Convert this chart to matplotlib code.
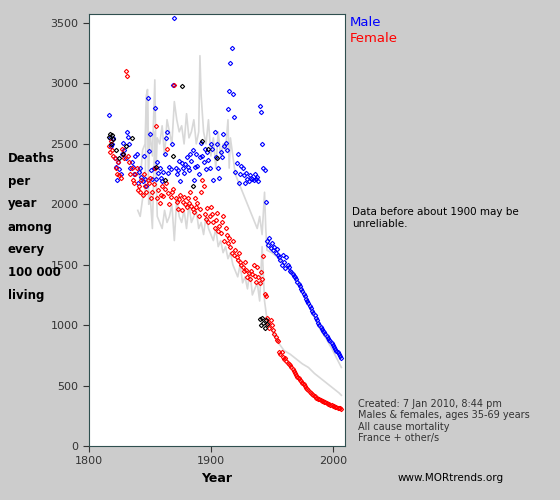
import matplotlib
matplotlib.use("Agg")
import matplotlib.pyplot as plt
import numpy as np

male_years = list(range(1816, 1946)) + list(range(1946, 2008))
male_vals = [2740,2550,2480,2500,2550,2380,2310,2200,2350,2290,
             2250,2420,2510,2450,2380,2600,2560,2500,2300,2350,
             2310,2250,2400,2420,2180,2270,2300,2230,2190,2400,
             2210,2150,2880,2440,2580,2280,2210,2300,2800,2210,
             2350,2260,2300,2220,2190,2270,2420,2550,2600,2260,
             2310,2290,2500,2990,3540,2300,2250,2280,2360,2190,
             2340,2300,2260,2330,2390,2310,2280,2420,2360,2450,
             2200,2310,2420,2320,2250,2390,2510,2400,2350,2460,
             2290,2430,2370,2300,2500,2460,2200,2600,2390,2500,
             2300,2220,2430,2390,2580,2480,2510,2450,2790,2940,
             3170,3290,2910,2720,2270,2340,2420,2180,2250,2320,
             2300,2240,2180,2260,2210,2190,2240,2220,2210,2200,
             2250,2210,2230,2190,2810,2760,2500,2300,2280,2020,
             1700,1660,1720,1640,1680,1620,1650,1600,1630,1580,
             1560,1540,1500,1580,1520,1470,1560,1500,1480,1450,
             1440,1420,1410,1400,1380,1360,1340,1320,1300,1280,
             1260,1240,1220,1200,1180,1160,1140,1120,1100,1080,
             1060,1040,1020,1000,985,970,955,940,925,910,
             895,880,865,850,835,820,805,790,775,760,
             745,730]
fem_years = list(range(1816, 2008))
fem_vals = [2480,2430,2520,2450,2400,2380,2300,2250,2350,2240,
            2220,2460,2420,2380,3100,3060,2400,2350,2250,2300,
            2200,2180,2250,2300,2120,2150,2100,2200,2080,2250,
            2150,2100,2200,2180,2220,2050,2100,2170,2300,2650,
            2050,2120,2010,2080,2150,2070,2130,2180,2460,2090,
            2000,2060,2100,2130,2990,2050,2020,1960,2040,2080,
            1950,2020,2060,2000,1980,2050,2010,2100,1990,1960,
            1940,2050,1980,2010,1900,1960,2100,2200,2150,1920,
            1880,1970,1850,1900,1980,1920,1850,1800,1870,1930,
            1780,1820,1760,1850,1900,1700,1800,1750,1680,1720,
            1650,1600,1700,1580,1620,1560,1540,1600,1520,1500,
            1480,1450,1520,1460,1400,1430,1380,1450,1420,1500,
            1410,1360,1480,1400,1350,1440,1380,1570,1260,1240,
            1060,1020,980,1040,1000,960,930,900,880,870,
            780,760,780,740,720,730,700,690,680,670,
            650,640,620,600,590,570,560,550,540,520,
            510,495,480,470,460,450,440,430,420,410,
            400,395,390,385,380,375,370,365,360,355,
            350,345,342,338,335,330,325,322,318,315,
            312,310]
oth_years = [1816,1817,1818,1819,1820,1822,1825,1828,1830,1835,1855,1862,1869,1876,1885,1893,1898,1905,1940,1941,1942,1943,1944,1945,1946]
oth_vals = [2560,2580,2500,2570,2540,2450,2380,2420,2480,2550,2310,2200,2400,2980,2150,2520,2460,2380,1050,1000,1060,1020,980,1040,1010]
gm_years = [1840,1842,1844,1846,1847,1848,1849,1850,1852,1854,1855,1856,1858,1860,1862,1864,1866,1868,1870,1872,1874,1876,1878,1880,1882,1884,1886,1888,1890,1891,1892,1894,1896,1898,1900,1902,1904,1906,1908,1910,1912,1914,1915,1916,1918,1920,1922,1924,1926,1928,1930,1932,1934,1936,1938,1940,1942,1944,1945,1946,1950,1955,1960,1965,1970,1975,1980,1985,1990,1995,2000,2005,2007]
gm_vals = [2300,2200,2450,2500,2900,2950,2300,2600,2400,3030,2300,2550,2500,2650,2400,2700,2600,2500,2850,2700,2600,2650,2500,2750,2550,2600,2700,2500,2600,3230,2900,2600,2500,2700,2400,2550,2300,2600,2400,2500,2450,2700,2300,2550,2400,2250,2200,2150,2100,2050,2000,1950,1900,1850,1800,1900,1750,2100,1800,1620,1600,1560,1500,1450,1400,1300,1180,1060,960,880,790,690,650]
gf_years = [1840,1842,1844,1846,1847,1848,1849,1850,1852,1854,1856,1858,1860,1862,1864,1866,1868,1870,1872,1874,1876,1878,1880,1882,1884,1886,1888,1890,1892,1894,1896,1898,1900,1902,1904,1906,1908,1910,1912,1914,1916,1918,1920,1922,1924,1926,1928,1930,1932,1934,1936,1938,1940,1942,1944,1946,1950,1955,1960,1965,1970,1975,1980,1985,1990,1995,2000,2005,2007]
gf_vals = [1950,1900,2050,2100,2800,2850,2000,2100,1800,2600,1900,1850,1800,1950,1850,1900,2000,1700,2050,1900,1850,1950,1800,2000,1850,1900,1950,1800,1850,1750,1900,1800,1750,1700,1800,1650,1700,1600,1650,1550,1600,1500,1450,1400,1500,1350,1400,1300,1450,1250,1300,1350,1200,1650,1200,1050,960,860,790,760,720,680,650,600,560,520,480,440,420]

xticks = [1800, 1900, 2000]
yticks = [0, 500, 1000, 1500, 2000, 2500, 3000, 3500]

fig = plt.figure(figsize=(5.6, 5.0), dpi=100, facecolor='#cccccc')
ax = fig.add_axes([89/560, 54/500, 256/560, 432/500])
ax.set_facecolor('white')
ax.plot(gm_years, gm_vals, color='#d8d8d8', lw=1.2, zorder=1)
ax.plot(gf_years, gf_vals, color='#d8d8d8', lw=1.2, zorder=1)
kw = dict(ls='none', marker='D', ms=2.2, mfc='none', mew=0.8, zorder=3)
ax.plot(male_years, male_vals, color='blue', **kw)
ax.plot(fem_years, fem_vals, color='red', **kw)
ax.plot(oth_years, oth_vals, color='black', **kw)
ax.set_xlim(1800, 2010)
ax.set_ylim(0, 3575)
ax.set_xticks(xticks)
ax.set_yticks(yticks)
ax.tick_params(labelsize=8, colors='#333333', labelcolor='#333333', length=4)
for s in ax.spines.values():
    s.set_color('#2f4f4f')
fig.text(217/560, 1-478/500, 'Year', fontsize=9, fontweight='bold', ha='center', va='center')
fig.text(8/560, 1-227/500, 'Deaths\nper\nyear\namong\nevery\n100 000\nliving', fontsize=8.5,
         fontweight='bold', ha='left', va='center', linespacing=2.0)
fig.text(350/560, 1-23/500, 'Male', color='blue', fontsize=9.5, va='center')
fig.text(350/560, 1-38/500, 'Female', color='red', fontsize=9.5, va='center')
fig.text(352/560, 1-218/500, 'Data before about 1900 may be\nunreliable.', fontsize=7.5, va='center')
fig.text(358/560, 1-421/500, 'Created: 7 Jan 2010, 8:44 pm\nMales & females, ages 35-69 years\nAll cause mortality\nFrance + other/s',
         fontsize=7, color='#333333', va='center', linespacing=1.15)
fig.text(398/560, 1-478/500, 'www.MORtrends.org', fontsize=7.5, va='center')
fig.savefig('out.png', dpi=100, facecolor=fig.get_facecolor())
